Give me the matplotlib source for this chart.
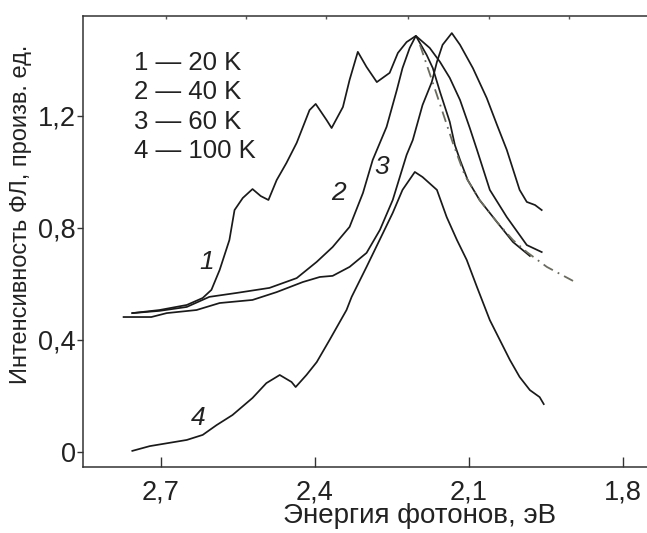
import matplotlib.pyplot as plt

plt.rcParams['font.family'] = ['Liberation Sans', 'DejaVu Sans']

# photon energy (eV) / PL intensity (arb. units) for each temperature
e_20k = [2.755, 2.702, 2.649, 2.618, 2.601, 2.585, 2.566, 2.556, 2.540, 2.521,
         2.505, 2.490, 2.474, 2.455, 2.435, 2.410, 2.398, 2.377, 2.367, 2.345,
         2.332, 2.316, 2.299, 2.279, 2.254, 2.238, 2.221, 2.203, 2.182, 2.170,
         2.156, 2.137, 2.127, 2.117, 2.102, 2.079, 2.045, 2.014, 1.981]
i_20k = [0.496, 0.507, 0.525, 0.550, 0.579, 0.650, 0.757, 0.864, 0.907, 0.939,
         0.914, 0.900, 0.971, 1.032, 1.104, 1.221, 1.243, 1.186, 1.157, 1.232,
         1.329, 1.429, 1.375, 1.321, 1.354, 1.425, 1.464, 1.486, 1.418, 1.371,
         1.286, 1.179, 1.096, 1.043, 0.971, 0.900, 0.821, 0.750, 0.700]

e_40k = [2.755, 2.702, 2.649, 2.605, 2.552, 2.488, 2.435, 2.396, 2.365, 2.332,
         2.306, 2.287, 2.260, 2.240, 2.229, 2.215, 2.203, 2.176, 2.156, 2.137,
         2.117, 2.098, 2.084, 2.059, 2.026, 1.987, 1.958]
i_40k = [0.496, 0.504, 0.518, 0.554, 0.568, 0.586, 0.621, 0.679, 0.732, 0.804,
         0.925, 1.043, 1.161, 1.293, 1.371, 1.443, 1.486, 1.443, 1.393, 1.336,
         1.257, 1.157, 1.079, 0.936, 0.839, 0.739, 0.714]

e_60k = [2.772, 2.718, 2.688, 2.630, 2.585, 2.521, 2.474, 2.423, 2.390, 2.365,
         2.332, 2.299, 2.273, 2.248, 2.221, 2.209, 2.190, 2.172, 2.162, 2.151,
         2.133, 2.117, 2.092, 2.065, 2.045, 2.026, 2.001, 1.987, 1.971, 1.958]
i_60k = [0.482, 0.482, 0.496, 0.507, 0.532, 0.543, 0.571, 0.607, 0.625, 0.629,
         0.661, 0.711, 0.793, 0.900, 1.061, 1.114, 1.239, 1.321, 1.393, 1.454,
         1.496, 1.454, 1.371, 1.264, 1.168, 1.079, 0.936, 0.893, 0.882, 0.864]

e_100k = [2.755, 2.721, 2.649, 2.618, 2.591, 2.560, 2.521, 2.494, 2.468, 2.445,
          2.437, 2.416, 2.396, 2.371, 2.338, 2.328, 2.299, 2.267, 2.248, 2.229,
          2.205, 2.190, 2.162, 2.143, 2.123, 2.104, 2.084, 2.059, 2.020, 2.001,
          1.981, 1.962, 1.954]
i_100k = [0.004, 0.021, 0.043, 0.061, 0.096, 0.132, 0.193, 0.246, 0.275, 0.250,
          0.232, 0.275, 0.321, 0.400, 0.507, 0.554, 0.661, 0.782, 0.854, 0.936,
          1.000, 0.982, 0.936, 0.839, 0.757, 0.686, 0.589, 0.471, 0.329, 0.268,
          0.221, 0.196, 0.171]

# fitted high-energy-side slope
e_fit = [2.195, 2.162, 2.131, 2.108, 2.079, 2.045, 2.014, 1.987, 1.948, 1.897]
i_fit = [1.454, 1.275, 1.104, 0.989, 0.900, 0.821, 0.757, 0.714, 0.661, 0.611]

legend_rows = ["1 — 20 K", "2 — 40 K", "3 — 60 K", "4 — 100 K"]
top_ticks = [2.690, 2.534, 2.377, 2.219, 2.061, 1.905]

fig = plt.figure(figsize=(6.47, 5.33), dpi=100)
ax = fig.add_axes([0.1283, 0.1244, 0.8717, 0.8461])

for e, i in [(e_20k, i_20k), (e_40k, i_40k), (e_60k, i_60k), (e_100k, i_100k)]:
    ax.plot(e, i, color='#1a1a1a', lw=1.25)
ax.plot(e_fit, i_fit, color='#6b6b5e', lw=1.3, ls=(0, (6, 3, 1, 3)))

ax.set_xlim(2.851, 1.753)
ax.set_ylim(-0.0525, 1.558)

ax.set_xticks([2.7, 2.4, 2.1, 1.8])
ax.set_xticklabels(['2,7', '2,4', '2,1', '1,8'])
ax.set_yticks([0, 0.4, 0.8, 1.2])
ax.set_yticklabels(['0', '0,4', '0,8', '1,2'])
ax.tick_params(axis='x', direction='in', length=7, width=1, pad=9,
               labelsize=19.5, color='#333333', labelcolor='#222222')
ax.tick_params(axis='y', direction='out', length=4, width=1, pad=1,
               labelsize=19.5, color='#333333', labelcolor='#222222')

top = ax.secondary_xaxis('top')
top.set_xticks(top_ticks)
top.tick_params(direction='in', length=2.5, width=1, labeltop=False, color='#555555')
top.spines['top'].set_visible(False)

for side in ['left', 'bottom', 'top']:
    ax.spines[side].set_color('#333333')
    ax.spines[side].set_linewidth(1.1)
ax.spines['right'].set_visible(False)

ax.set_xlabel('Энергия фотонов, эВ', fontsize=20, color='#222222')
ax.xaxis.set_label_coords(0.597, -0.081)
ax.set_ylabel('Интенсивность ФЛ, произв. ед.', fontsize=17, color='#222222')
ax.yaxis.set_label_coords(-0.091, 0.56)

# curve numbers
for txt, x, y in [('1', 2.610, 0.679), ('2', 2.353, 0.925),
                  ('3', 2.270, 1.018), ('4', 2.626, 0.121)]:
    ax.text(x, y, txt, fontsize=19, style='italic', ha='center', va='center',
            color='#222222')

for k, row in enumerate(legend_rows):
    ax.text(2.751, 1.389 - 0.105 * k, row, fontsize=18.5, ha='left', va='center',
            color='#222222')

fig.savefig('out.png', dpi=100)
